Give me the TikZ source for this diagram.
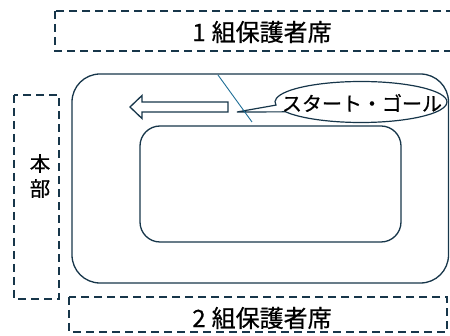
\documentclass[tikz,border=0pt]{standalone}
\usepackage{fontspec}
\setmainfont{Noto Sans CJK JP}
\newfontfamily\heavyjp{Noto Sans CJK JP}[FakeBold=0.6]
\usetikzlibrary{shapes.callouts}
\definecolor{navy}{RGB}{23,54,74}
\definecolor{tealblue}{RGB}{31,110,150}
\begin{document}
\begin{tikzpicture}[x=1pt,y=-1pt,
  dashbox/.style={draw=navy,line width=1.2pt,dash pattern=on 8pt off 5pt},
  track/.style={draw=navy,line width=1.3pt},
  bigtext/.style={font=\heavyjp\fontsize{24}{28}\selectfont,text=black,inner sep=0pt},
  midtext/.style={font=\heavyjp\fontsize{20}{24}\selectfont,text=black,inner sep=0pt},
  hqtext/.style={font=\heavyjp\fontsize{20.5}{25}\selectfont,text=black,align=center,inner sep=0pt}]
\useasboundingbox (0,0) rectangle (450,336);
% seating areas
\draw[dashbox] (55,11) rectangle (455,51);
\node[bigtext] (p1) at (262,32) {1\hspace{6pt}組保護者席};
\draw[dashbox] (69,297) rectangle (447,332);
\node[bigtext] (p2) at (262,318) {2\hspace{6pt}組保護者席};
\draw[dashbox] (14,95) rectangle (59,299);
\node[hqtext] (hq) at (40,176) {本\\部};
% track
\draw[track,rounded corners=28pt] (72,74) rectangle (448.5,283);
\draw[track,rounded corners=20pt] (140,126) rectangle (401,242);
% direction arrow
\draw[navy,line width=1.3pt,fill=white,line join=miter]
  (130,107) -- (142,95.5) -- (142,102) -- (228,102) -- (228,112) -- (142,112) -- (142,118.5) -- cycle;
% start/goal callout
\coordinate (tip) at (237,112);
\node[ellipse callout,draw=navy,line width=1.2pt,fill=white,minimum width=172pt,minimum height=41pt,
  inner sep=0pt,callout absolute pointer=(tip),callout pointer arc=20] (sg) at (361,102) {};
\node[midtext] (sgt) at (362,103) {スタート・ゴール};
% start line
\coordinate (b1) at (218,75);
\coordinate (b2) at (252,122);
\draw[tealblue,line width=0.9pt] (b1) -- (b2);
\end{tikzpicture}
\end{document}
